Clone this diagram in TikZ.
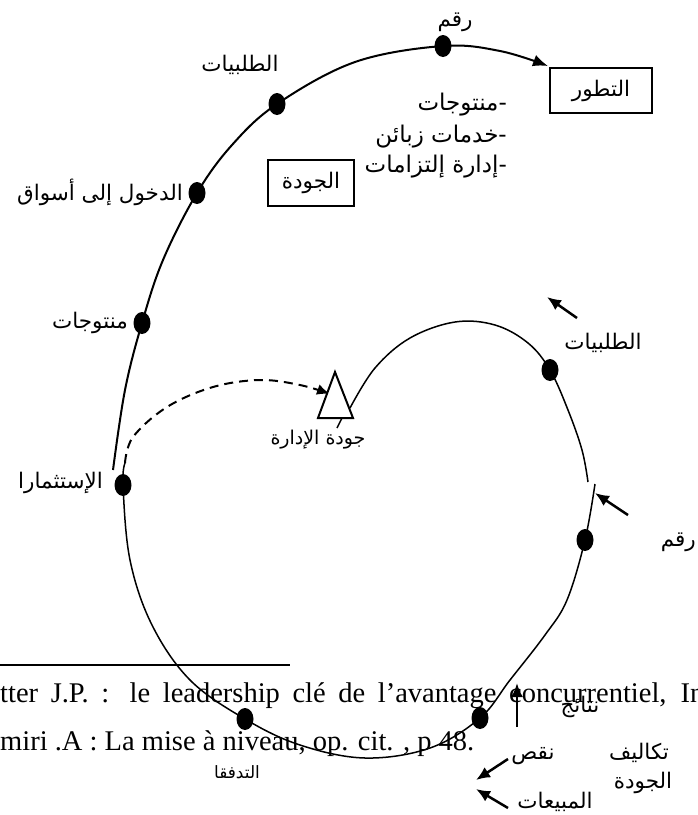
\documentclass[tikz,border=0pt]{standalone}
\usepackage{fontspec}
\setmainfont{Liberation Serif}
\newfontfamily\arabicfont[Script=Arabic]{DejaVu Sans}
\TeXXeTstate=1
\usetikzlibrary{arrows.meta,shapes.geometric}
\newcommand{\artxt}[1]{\arabicfont\beginR #1\endR}

\begin{document}
\begin{tikzpicture}[x=1pt,y=-1pt,
  dotmark/.style={ellipse,fill=black,inner sep=0pt,minimum width=17pt,minimum height=22pt},
  lbl/.style={font=\fontsize{21.5}{24}\selectfont,inner sep=0pt},
  listlbl/.style={font=\fontsize{23}{26}\selectfont,inner sep=0pt},
  smalllbl/.style={font=\fontsize{17}{19}\selectfont,inner sep=0pt},
  framebox/.style={draw,line width=1.5pt,inner sep=0pt},
  foot/.style={font=\fontsize{28.5}{32}\selectfont,inner sep=0pt},
  bigarrow/.style={line width=2.5pt,-{Latex[length=14pt,width=12pt]}}]
\useasboundingbox (0,0) rectangle (698,815);
\node[foot,anchor=base west] (foot1) at (0,702) {\makebox[704pt][s]{tter J.P. : le leadership clé de l’avantage concurrentiel, In}};
\node[foot,anchor=base west] (foot2) at (0,750) {miri .A : La mise à niveau, op. cit. , p 48.};
\draw[line width=1.8pt] (0,665) -- (290,665);
\node[lbl] (rqmtop) at (455,22) {\artxt{رقم}};
\node[lbl] (talabtop) at (240,65) {\artxt{الطلبيات}};
\node[listlbl,anchor=east] (item1) at (507,105) {\artxt{-منتوجات}};
\node[listlbl,anchor=east] (item2) at (507,137) {\artxt{-خدمات زبائن}};
\node[listlbl,anchor=east] (item3) at (507,167) {\artxt{-إدارة إلتزامات}};
\node[framebox,minimum width=102pt,minimum height=45pt,lbl] (tatawur) at (601,90.5) {\artxt{التطور}};
\node[framebox,minimum width=86pt,minimum height=46pt,lbl] (jawda) at (311,183) {\artxt{الجودة}};
\node[lbl,anchor=east] (dukhul) at (183,192) {\artxt{الدخول إلى أسواق}};
\node[lbl,anchor=east] (muntajat) at (128,323) {\artxt{منتوجات}};
\node[lbl,anchor=east] (istithmar) at (103,483) {\artxt{الإستثمارا}};
\node[font=\fontsize{19}{22}\selectfont,inner sep=0pt] (jidara) at (318,440) {\artxt{جودة الإدارة}};
\node[lbl] (talabright) at (603,343) {\artxt{الطلبيات}};
\node[lbl,anchor=east] (rqmright) at (696,542) {\artxt{رقم}};
\node[lbl] (nataij) at (580,707) {\artxt{نتائج}};
\node[lbl] (naqs) at (533,756) {\artxt{نقص}};
\node[lbl] (takalif) at (639,753) {\artxt{تكاليف}};
\node[lbl] (jawda2) at (643,783) {\artxt{الجودة}};
\node[lbl] (mabiat) at (555,802) {\artxt{المبيعات}};
\node[smalllbl] (tadaffuq) at (237,772) {\artxt{التدفقا}};
\draw[line width=2pt,-{Latex[length=15pt,width=12pt]}] plot[smooth,tension=0.6] coordinates {(113,470) (125,390) (142,323) (163,260) (197,193) (232,145) (277,104) (355,62) (443,46) (500,51) (548,66)};
\draw[line width=1.5pt] plot[smooth,tension=0.6] coordinates {(125,463) (123,485) (130,560) (152,625) (190,680) (245,719) (300,745) (365,758) (430,748) (480,718) (510,680) (545,635) (567,600) (585,540) (595,484)};
\draw[line width=1.5pt] plot[smooth,tension=0.6] coordinates {(350,408) (375,368) (410,338) (455,322) (495,325) (528,343) (550,370) (568,410) (582,450) (588,482)};
\draw[line width=2pt,dash pattern=on 9pt off 6pt,-{Latex[length=13pt,width=11pt]}] plot[smooth,tension=0.6] coordinates {(125,463) (133,437) (167,407) (213,387) (260,380) (300,385) (330,394)};
\draw[line width=2pt,fill=white] (335,372) -- (353,418) -- (318,418) -- cycle;
\draw[line width=1.5pt] (342,418) -- (337,428);
\node[dotmark] (dot1) at (142,323) {};
\node[dotmark] (dot2) at (197,193) {};
\node[dotmark] (dot3) at (277,104) {};
\node[dotmark] (dot4) at (443,46) {};
\node[dotmark] (dot5) at (123,485) {};
\node[dotmark] (dot6) at (245,719) {};
\node[dotmark] (dot7) at (480,718) {};
\node[dotmark] (dot8) at (585,540) {};
\node[dotmark] (dot9) at (550,370) {};
\coordinate (a1s) at (577,318); \coordinate (a1e) at (547,297);
\coordinate (a2s) at (628,515); \coordinate (a2e) at (595,493);
\coordinate (a3s) at (517,727); \coordinate (a3e) at (517,683);
\coordinate (a4s) at (508,759); \coordinate (a4e) at (476,780);
\coordinate (a5s) at (508,808); \coordinate (a5e) at (476,789);
\draw[bigarrow] (a1s) -- (a1e);
\draw[bigarrow] (a2s) -- (a2e);
\draw[bigarrow] (a3s) -- (a3e);
\draw[bigarrow] (a4s) -- (a4e);
\draw[bigarrow] (a5s) -- (a5e);
\end{tikzpicture}
\end{document}
